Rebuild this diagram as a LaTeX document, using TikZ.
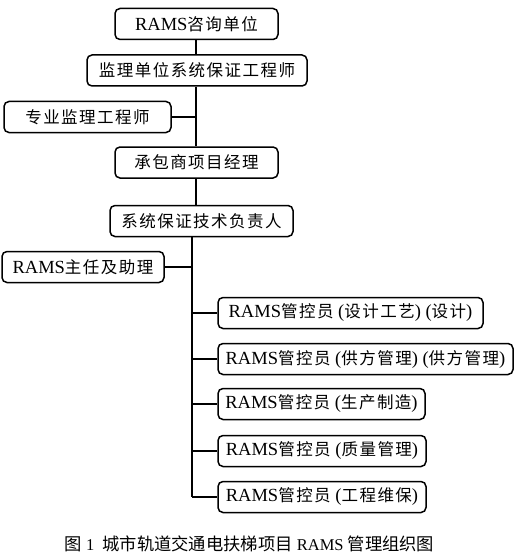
\documentclass[tikz,border=0pt]{standalone}
\usepackage{fontspec}
\setmainfont{Liberation Serif}
\newfontfamily\cjkfont[LetterSpace=9]{Noto Sans CJK SC}
\newfontfamily\cjkcap{Noto Sans CJK SC}
\newcommand\zh[1]{{\fontsize{16.5}{18}\selectfont\cjkfont #1}}
\newcommand\zhcap[1]{{\fontsize{17.3}{18}\selectfont\cjkcap #1}}
\tikzset{
  orgbox/.style={draw=black, line width=1.5pt, rounded corners=5pt, fill=white,
    inner sep=0pt, minimum height=31pt, align=center,
    font=\fontsize{18.5}{20}\selectfont},
  link/.style={draw=black, line width=2pt}
}
\begin{document}
\begin{tikzpicture}[x=1pt,y=-1pt]
\useasboundingbox (0,0) rectangle (525,559);
\node[orgbox, minimum width=163pt] (b1) at (196.5,24) {RAMS\zh{咨询单位}};
\node[orgbox, minimum width=220pt] (b2) at (197,70.5) {\zh{监理单位系统保证工程师}};
\node[orgbox, minimum width=167pt] (b3) at (87.5,117) {\zh{专业监理工程师}};
\node[orgbox, minimum width=163pt] (b4) at (196.5,162.5) {\zh{承包商项目经理}};
\node[orgbox, minimum width=183pt] (b5) at (201.5,221) {\zh{系统保证技术负责人}};
\node[orgbox, minimum width=162pt] (b6) at (83,267) {RAMS\zh{主任及助理}};
\node[orgbox, minimum width=265pt] (b7) at (350.5,313) {RAMS\zh{管控员} (\zh{设计工艺}) (\zh{设计})};
\node[orgbox, minimum width=295pt] (b8) at (365.5,359) {RAMS\zh{管控员} (\zh{供方管理}) (\zh{供方管理})};
\node[orgbox, minimum width=207pt] (b9) at (321.5,404) {RAMS\zh{管控员} (\zh{生产制造})};
\node[orgbox, minimum width=208pt] (b10) at (322,451) {RAMS\zh{管控员} (\zh{质量管理})};
\node[orgbox, minimum width=208pt] (b11) at (322,497) {RAMS\zh{管控员} (\zh{工程维保})};
\coordinate (j3) at (196,117);
\coordinate (j6) at (192,267);
\coordinate (j7) at (192,313);
\coordinate (j8) at (192,359);
\coordinate (j9) at (192,404);
\coordinate (j10) at (192,451);
\coordinate (j11) at (192,497);
\draw[link] (b1.south -| j3) -- (b2.north -| j3);
\draw[link] (b2.south -| j3) -- (b4.north -| j3);
\draw[link] (b3.east) -- (j3);
\draw[link] (b4.south -| j3) -- (b5.north -| j3);
\draw[link] (b5.south -| j6) -- (j11);
\draw[link] (b6.east) -- (j6);
\draw[link] (j7) -- (b7.west);
\draw[link] (j8) -- (b8.west);
\draw[link] (j9) -- (b9.west);
\draw[link] (j10) -- (b10.west);
\draw[link] (j11) -- (b11.west);
\node[inner sep=0pt, font=\fontsize{16.5}{18}\selectfont] (cap) at (249.5,544)
  {\zhcap{图} 1\hspace{8pt}\zhcap{城市轨道交通电扶梯项目} RAMS \zhcap{管理组织图}};
\end{tikzpicture}
\end{document}
